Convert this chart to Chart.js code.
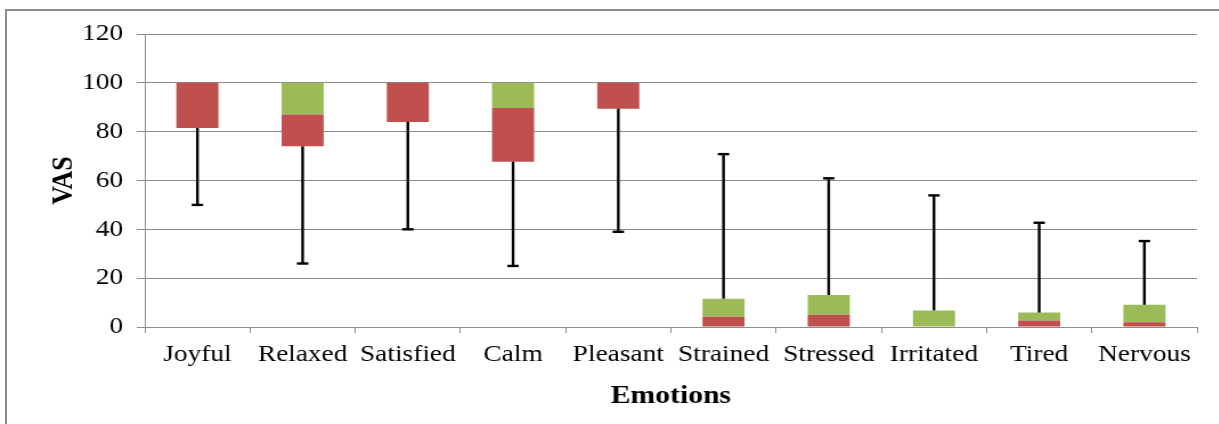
<!DOCTYPE html>
<html>
<head>
<meta charset="utf-8">
<script src="https://cdn.jsdelivr.net/npm/chart.js@4"></script>
<style>
  html, body { margin: 0; padding: 0; background: #fff; overflow: hidden; }
  #frame { position: absolute; left: 5px; top: 9px; width: 1400px; height: 600px; border: 2px solid #8c8c8c; box-sizing: border-box; }
  #wrap { position: absolute; left: 0; top: 0; width: 1070px; height: 424px; transform: scaleX(1.14); transform-origin: 0 0; }
</style>
</head>
<body>
<div id="frame"></div>
<div id="wrap"><canvas id="c" width="1070" height="424"></canvas></div>
<script>
const categories = ['Joyful','Relaxed','Satisfied','Calm','Pleasant','Strained','Stressed','Irritated','Tired','Nervous'];
const minVals    = [50, 26, 40, 25, 39, 0, 0, 0, 0, 0];
const q1Vals     = [81.5, 74, 84, 67.7, 89.4, 0, 0, 0, 0, 0];
const medianVals = [100, 87, 100, 89.7, 100, 4.2, 5, 0, 2.7, 1.9];
const q3Vals     = [100, 100, 100, 100, 100, 11.6, 13.1, 6.8, 5.9, 9.1];
const maxVals    = [100, 100, 100, 100, 100, 70.8, 60.9, 53.9, 42.7, 35.2];
const yTicks     = [0, 20, 40, 60, 80, 100, 120];

const FONT = "'Liberation Serif', 'Times New Roman', serif";
const GRID = '#8c8c8c';

const whiskerPlugin = {
  id: 'whiskers',
  afterDatasetsDraw(chart) {
    const ctx = chart.ctx, xs = chart.scales.x, ys = chart.scales.y;
    const cap = 5;
    ctx.save();
    ctx.strokeStyle = '#000';
    ctx.lineWidth = 2.4;
    categories.forEach((c, i) => {
      const x = xs.getPixelForValue(i);
      const seg = (from, to) => {
        if (from === to) return;
        const y1 = ys.getPixelForValue(from), y2 = ys.getPixelForValue(to);
        ctx.beginPath(); ctx.moveTo(x, y1); ctx.lineTo(x, y2); ctx.stroke();
        ctx.beginPath(); ctx.moveTo(x - cap, y2); ctx.lineTo(x + cap, y2); ctx.stroke();
      };
      seg(q1Vals[i], minVals[i]);
      seg(q3Vals[i], maxVals[i]);
    });
    ctx.restore();
  }
};

new Chart(document.getElementById('c'), {
  type: 'bar',
  data: {
    labels: categories,
    datasets: [
      { label: 'Q1-Median', data: categories.map((c, i) => [q1Vals[i], medianVals[i]]), backgroundColor: '#C0504D', borderWidth: 0, grouped: false, barPercentage: 0.4, categoryPercentage: 1 },
      { label: 'Median-Q3', data: categories.map((c, i) => [medianVals[i], q3Vals[i]]), backgroundColor: '#9BBB59', borderWidth: 0, grouped: false, barPercentage: 0.4, categoryPercentage: 1 }
    ]
  },
  options: {
    responsive: false,
    animation: false,
    layout: { padding: { top: 34, right: 20, left: 0, bottom: 0 } },
    plugins: { legend: { display: false }, tooltip: { enabled: false } },
    scales: {
      x: {
        grid: { display: true, drawOnChartArea: false, drawTicks: true, tickLength: 6, color: GRID, offset: true },
        border: { color: GRID, width: 1 },
        ticks: { color: '#000', font: { family: FONT, size: 24 }, padding: 7, maxRotation: 0, autoSkip: false },
        title: { display: true, text: 'Emotions', color: '#000', font: { family: FONT, size: 26, weight: 'bold' }, padding: { top: 0, bottom: 12 } },
        afterFit(s) { s.height = 97; }
      },
      y: {
        min: 0, max: 120,
        afterBuildTicks(s) { s.ticks = yTicks.map(v => ({ value: v })); },
        grid: { color: GRID, tickLength: 7, drawTicks: true },
        border: { color: GRID, width: 1 },
        ticks: { color: '#000', font: { family: FONT, size: 24 }, padding: 12 },
        title: { display: true, text: 'VAS', color: '#000', font: { family: FONT, size: 26, weight: 'bold' }, padding: { top: 41, bottom: 0 } },
        afterFit(s) { s.width = 127; }
      }
    }
  },
  plugins: [whiskerPlugin]
});
</script>
</body>
</html>
